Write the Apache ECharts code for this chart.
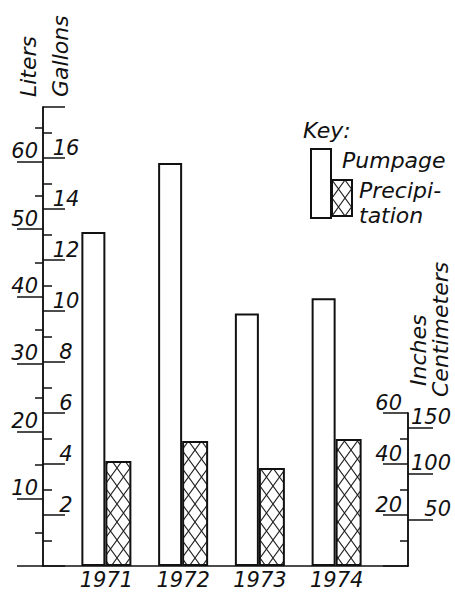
<!DOCTYPE html>
<html><head><meta charset="utf-8">
<script src="https://cdn.jsdelivr.net/npm/echarts@6/dist/echarts.min.js"></script>
<style>html,body{margin:0;padding:0;background:#fff}#c{width:455px;height:592px}</style>
</head><body><div id="c"></div>
<script>
// ---- data ----
const years = ['1971', '1972', '1973', '1974'];
const pumpageGallons = [13.1, 15.8, 9.9, 10.5];
const precipInches = [41.2, 49.0, 38.4, 49.8];
const gallonLabels = [2, 4, 6, 8, 10, 12, 14, 16];
const literLabels = [10, 20, 30, 40, 50, 60];
const literTicks = [0, 10, 20, 30, 40, 50, 60];
const inchLabels = [20, 40, 60];
const cmLabels = [50, 100, 150];

// ---- scales / layout ----
const GAL_MAX = 18, INCH_MAX = 60, CM_MAX = 166;
const LITERS_PER_GALLON = 3.78541;
const W = 455, H = 592;
const BASE_Y = 566, TOP_LEFT = 107, TOP_RIGHT = 413;
const AXIS_LEFT_X = 43, AXIS_RIGHT_X = 408;
const BAR_GRID_LEFT = 68, BAR_GRID_RIGHT = 80;
const tallH = BASE_Y - TOP_LEFT, shortH = BASE_Y - TOP_RIGHT;
const PRECIP_HIDDEN_MAX = INCH_MAX * tallH / shortH;

const INK = '#111';
const FONT = 'DejaVu Sans';
const txt = (size) => ({ fontFamily: FONT, fontStyle: 'italic', fontSize: size, color: INK });

const hatchSvg = "<svg xmlns='http://www.w3.org/2000/svg' width='13' height='18'><path d='M0,0L13,18M13,0L0,18' stroke='#222' stroke-width='1.1' fill='none'/></svg>";
const hatch = { image: 'data:image/svg+xml;charset=utf-8,' + encodeURIComponent(hatchSvg), repeat: 'repeat', imageWidth: 13, imageHeight: 18 };

const tickLine = { color: INK, width: 1.5 };
// rotated axis title: side 'top' puts it right of the axis line, 'bottom' left of it;
// distance = line height, text is centred in that band
const axisName = (side, dist) => Object.assign(txt(22), { align: 'left', verticalAlign: side, lineHeight: dist });

const chart = echarts.init(document.getElementById('c'), null, { renderer: 'svg', width: W, height: H });
chart.setOption({
  animation: false,
  backgroundColor: '#fff',
  title: { text: 'Key:', left: 303, top: 119, padding: 0,
    textStyle: Object.assign(txt(22), { fontWeight: 'normal' }) },
  legend: [
    { data: ['Pumpage'], left: 310, top: 148, padding: 0, orient: 'vertical', icon: 'rect',
      itemWidth: 20, itemHeight: 69, selectedMode: false,
      itemStyle: { color: '#fff', borderColor: INK, borderWidth: 2 },
      formatter: '{p|Pumpage}\n{p| }',
      textStyle: { rich: { p: Object.assign(txt(22), { lineHeight: 47, padding: [0, 0, 0, 6] }) } } },
    { data: ['Precipitation'], left: 331, top: 169, padding: 0, orient: 'vertical', icon: 'rect',
      itemWidth: 20, itemHeight: 36, selectedMode: false,
      itemStyle: { color: hatch, borderColor: INK, borderWidth: 2 },
      formatter: '{e| }\n{q|Precipi-}\n{q|tation}',
      textStyle: { rich: { e: { fontSize: 8, lineHeight: 10 },
        q: Object.assign(txt(22), { lineHeight: 25, padding: [0, 0, 0, 2] }) } } }
  ],
  grid: [
    { left: BAR_GRID_LEFT, right: BAR_GRID_RIGHT, top: TOP_LEFT, bottom: H - BASE_Y,
      containLabel: false, outerBoundsMode: 'none' },
    { left: AXIS_LEFT_X, right: W - AXIS_RIGHT_X, top: TOP_RIGHT, bottom: H - BASE_Y,
      containLabel: false, outerBoundsMode: 'none' }
  ],
  xAxis: [
    { type: 'category', gridIndex: 0, data: years, boundaryGap: true,
      axisLine: { show: false }, axisTick: { show: false },
      axisLabel: Object.assign(txt(21), { margin: 3, lineHeight: 21 }) },
    { type: 'category', gridIndex: 1, data: years,
      axisLine: { show: true, lineStyle: { color: INK, width: 1.5 } },
      axisTick: { show: false }, axisLabel: { show: false } }
  ],
  yAxis: [
    { type: 'value', gridIndex: 0, position: 'left', offset: BAR_GRID_LEFT - AXIS_LEFT_X,
      min: 0, max: GAL_MAX, interval: 2, splitLine: { show: false },
      axisLine: { show: true, lineStyle: { color: INK, width: 1.5 } },
      axisTick: { show: true, inside: true, length: 22, lineStyle: tickLine },
      minorTick: { show: true, splitNumber: 2, length: 9, lineStyle: tickLine },
      axisLabel: Object.assign(txt(21), { inside: true, align: 'center', margin: 23, verticalAlign: 'bottom', customValues: gallonLabels }),
      name: 'Gallons', nameLocation: 'end', nameRotate: 90, nameGap: 10,
      nameTextStyle: axisName('top', 35) },
    { type: 'value', gridIndex: 0, position: 'left', offset: BAR_GRID_LEFT - AXIS_LEFT_X,
      min: 0, max: GAL_MAX * LITERS_PER_GALLON, interval: 10, splitLine: { show: false },
      axisLine: { show: true, lineStyle: { color: INK, width: 1.5 } },
      axisTick: { show: true, inside: false, length: 26, lineStyle: tickLine, customValues: literTicks },
      minorTick: { show: true, splitNumber: 2, length: 8, lineStyle: tickLine },
      axisLabel: Object.assign(txt(21), { margin: 5, verticalAlign: 'bottom', customValues: literLabels }),
      name: 'Liters', nameLocation: 'end', nameRotate: 90, nameGap: 10,
      nameTextStyle: axisName('bottom', 30) },
    { type: 'value', gridIndex: 0, show: false, min: 0, max: PRECIP_HIDDEN_MAX, splitLine: { show: false } },
    { type: 'value', gridIndex: 1, position: 'right',
      min: 0, max: INCH_MAX, interval: 20, splitLine: { show: false },
      axisLine: { show: true, lineStyle: { color: INK, width: 1.5 } },
      axisTick: { show: true, inside: true, length: 25, lineStyle: tickLine },
      minorTick: { show: true, splitNumber: 2, length: 8, lineStyle: tickLine },
      axisLabel: Object.assign(txt(21), { inside: true, margin: 6, verticalAlign: 'bottom', customValues: inchLabels }),
      name: 'Inches', nameLocation: 'end', nameRotate: 90, nameGap: 27,
      nameTextStyle: axisName('top', 20) },
    { type: 'value', gridIndex: 1, position: 'right',
      min: 0, max: CM_MAX, interval: 50, splitLine: { show: false },
      axisLine: { show: true, lineStyle: { color: INK, width: 1.5 } },
      axisTick: { show: true, inside: false, length: 25, lineStyle: tickLine, customValues: cmLabels },
      axisLabel: Object.assign(txt(21), { margin: 43, align: 'right', verticalAlign: 'bottom', customValues: cmLabels }),
      name: 'Centimeters', nameLocation: 'end', nameRotate: 90, nameGap: 16,
      nameTextStyle: axisName('top', 64) }
  ],
  series: [
    { name: 'Pumpage', type: 'bar', xAxisIndex: 0, yAxisIndex: 0, data: pumpageGallons,
      barWidth: 24, barGap: '0%',
      itemStyle: { color: '#fff', borderColor: INK, borderWidth: 2 } },
    { name: 'Precipitation', type: 'bar', xAxisIndex: 0, yAxisIndex: 2, data: precipInches,
      barWidth: 26, barGap: '0%',
      itemStyle: { color: hatch, borderColor: INK, borderWidth: 2 } }
  ]
});
</script></body></html>
